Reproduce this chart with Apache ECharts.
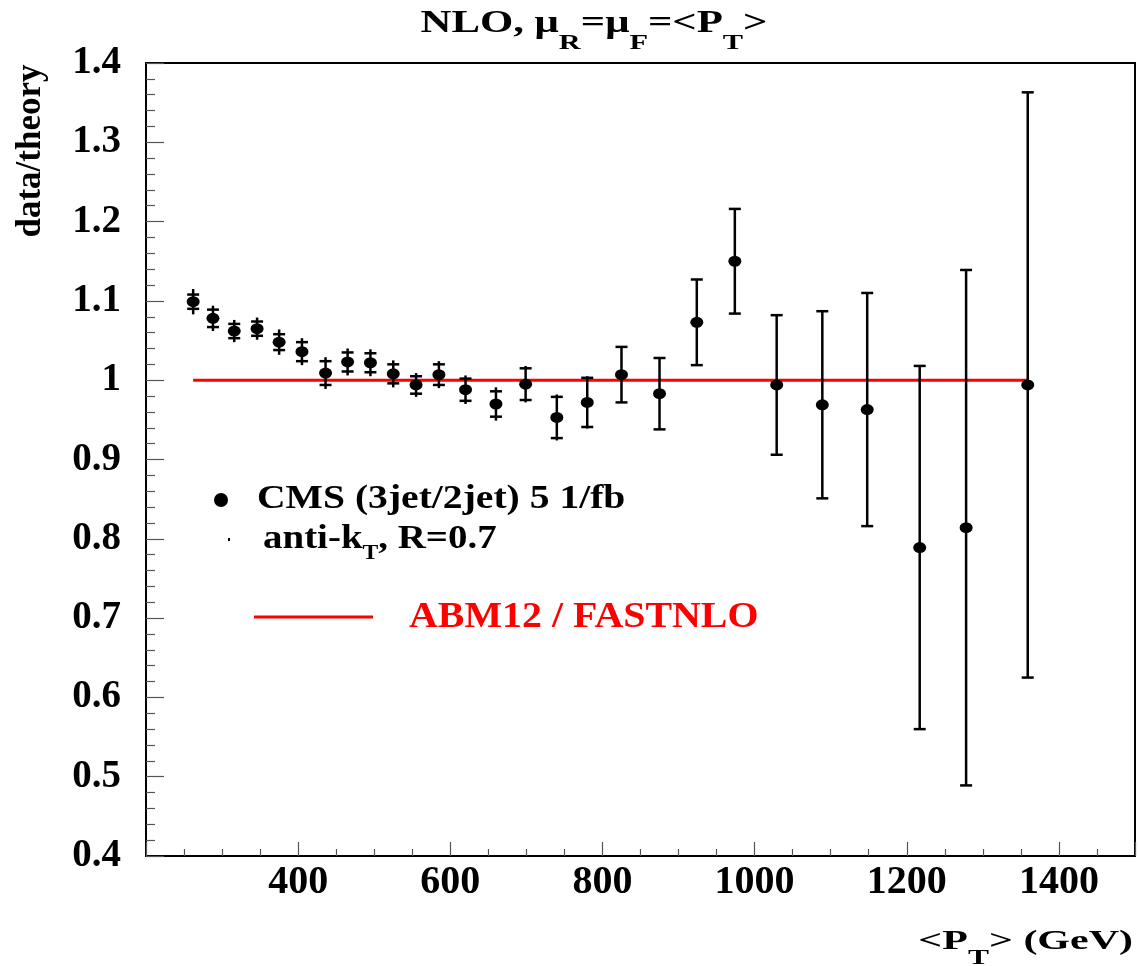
<!DOCTYPE html>
<html>
<head>
<meta charset="utf-8">
<script src="https://cdn.jsdelivr.net/npm/echarts@6/dist/echarts.min.js"></script>
<style>
html,body{margin:0;padding:0;background:#fff;}
#chart{width:1139px;height:966px;}
</style>
</head>
<body>
<div id="chart"></div>
<script>
// ---- data ----
const ptValues = [262, 288, 316, 346, 375, 405, 436, 465, 495, 525, 555, 585, 620, 660, 699, 740, 780, 825, 875, 924, 974, 1029, 1089, 1148, 1217, 1278, 1359];
const ratioValues = [1.099, 1.078, 1.062, 1.065, 1.048, 1.036, 1.009, 1.023, 1.022, 1.008, 0.994, 1.007, 0.988, 0.970, 0.995, 0.953, 0.972, 1.007, 0.983, 1.073, 1.150, 0.994, 0.969, 0.963, 0.789, 0.814, 0.994];
const errStat = [0.009, 0.011, 0.009, 0.009, 0.010, 0.012, 0.015, 0.012, 0.012, 0.012, 0.011, 0.013, 0.014, 0.016, 0.020, 0.026, 0.031, 0.035, 0.045, 0.054, 0.066, 0.088, 0.118, 0.147, 0.229, 0.325, 0.369];
const errTot = [0.016, 0.016, 0.014, 0.014, 0.016, 0.017, 0.020, 0.017, 0.017, 0.017, 0.015, 0.017, 0.018, 0.021, 0.023, 0.029, 0.033, 0.035, 0.045, 0.054, 0.066, 0.088, 0.118, 0.147, 0.229, 0.325, 0.369];
const theoryRatio = [1, 1, 1, 1, 1, 1, 1, 1, 1, 1, 1, 1, 1, 1, 1, 1, 1, 1, 1, 1, 1, 1, 1, 1, 1, 1, 1];
const xTickValues = [400, 600, 800, 1000, 1200, 1400];
const yTickValues = [0.4, 0.5, 0.6, 0.7, 0.8, 0.9, 1, 1.1, 1.2, 1.3, 1.4];

const FONT = '"Liberation Serif", "Times New Roman", serif';

const chart = echarts.init(document.getElementById('chart'), null, {renderer: 'canvas'});

const pointData = ptValues.map((x, i) => [x, ratioValues[i]]);
const errData = ptValues.map((x, i) => [x, ratioValues[i], errTot[i], errStat[i]]);
const theoryData = ptValues.map((x, i) => [x, theoryRatio[i]]);

function renderErr(params, api) {
  const x = api.value(0), y = api.value(1), et = api.value(2), es = api.value(3);
  const pTop = api.coord([x, y + et]);
  const pBot = api.coord([x, y - et]);
  const cTop = api.coord([x, y + es]);
  const cBot = api.coord([x, y - es]);
  const hw = 6;
  const st = {stroke: '#000', lineWidth: 2.5};
  return {
    type: 'group',
    children: [
      {type: 'line', shape: {x1: pTop[0], y1: pTop[1], x2: pBot[0], y2: pBot[1]}, style: st},
      {type: 'line', shape: {x1: cTop[0] - hw, y1: cTop[1], x2: cTop[0] + hw, y2: cTop[1]}, style: st},
      {type: 'line', shape: {x1: cBot[0] - hw, y1: cBot[1], x2: cBot[0] + hw, y2: cBot[1]}, style: st}
    ]
  };
}

// text with subscripts: pieces = [[text, fontSize, baselineDrop], ...]
const measureCtx = document.createElement('canvas').getContext('2d');
function fontOf(size) { return 'bold ' + size + 'px ' + FONT; }
function textGroup(pieces, x, baseline, align, scaleX, color) {
  let w = 0;
  const items = pieces.map(p => {
    measureCtx.font = fontOf(p[1]);
    const pw = measureCtx.measureText(p[0]).width;
    const it = {t: p[0], size: p[1], dy: p[2], off: w};
    w += pw;
    return it;
  });
  const start = align === 'center' ? -w / 2 : (align === 'right' ? -w : 0);
  return {
    type: 'group', x: x, y: baseline, scaleX: scaleX,
    children: items.map(it => ({
      type: 'text', x: start + it.off, y: it.dy - 0.305 * it.size,
      style: {text: it.t, font: fontOf(it.size), fill: color, align: 'left', textAlign: 'left', verticalAlign: 'middle', textVerticalAlign: 'middle'}
    }))
  };
}

const option = {
  backgroundColor: '#fff',
  animation: false,
  grid: {left: 146, right: 4, top: 63, bottom: 110, show: true, borderColor: '#000', borderWidth: 2, backgroundColor: 'transparent'},
  xAxis: {
    type: 'value', min: 200, max: 1500, interval: 200,
    axisLine: {show: true, onZero: false, lineStyle: {color: '#000', width: 2}},
    axisTick: {show: true, inside: true, length: 14, lineStyle: {color: '#555', width: 1.2}},
    minorTick: {show: true, splitNumber: 4, length: 7, lineStyle: {color: '#555', width: 1.2}},
    splitLine: {show: false},
    axisLabel: {
      showMinLabel: false,
      margin: 7,
      fontFamily: FONT, fontWeight: 'bold', fontSize: 40, color: '#000',
      formatter: v => (xTickValues.indexOf(v) >= 0 ? String(v) : '')
    }
  },
  yAxis: {
    type: 'value', min: 0.4, max: 1.4, interval: 0.1,
    axisLine: {show: true, onZero: false, lineStyle: {color: '#000', width: 2}},
    axisTick: {show: true, inside: true, length: 18, lineStyle: {color: '#555', width: 1.2}},
    minorTick: {show: true, splitNumber: 5, length: 9, lineStyle: {color: '#555', width: 1.2}},
    splitLine: {show: false},
    axisLabel: {
      margin: 25,
      fontFamily: FONT, fontWeight: 'bold', fontSize: 39, color: '#000',
      formatter: v => {
        const r = Math.round(v * 10) / 10;
        return yTickValues.indexOf(r) >= 0 ? String(r) : '';
      }
    }
  },
  series: [
    {
      type: 'line', data: theoryData, showSymbol: false, symbol: 'none',
      lineStyle: {color: '#ff0000', width: 3}, z: 2
    },
    {
      type: 'custom', data: errData, renderItem: renderErr, z: 3,
      encode: {x: 0, y: 1}
    },
    {
      type: 'scatter', data: pointData, symbol: 'circle', symbolSize: [13, 11],
      itemStyle: {color: '#000', opacity: 1}, z: 4
    }
  ],
  graphic: [
    textGroup([['NLO, μ', 31, 0], ['R', 22, 17], ['=μ', 31, 0], ['F', 22, 17], ['=<P', 31, 0], ['T', 22, 17], ['>', 31, 0]], 594, 33, 'center', 1.38, '#000'),
    {
      type: 'text', x: 31, y: 151, rotation: Math.PI / 2,
      style: {text: 'data/theory', font: 'bold 35px ' + FONT, fill: '#000', align: 'center', textAlign: 'center', verticalAlign: 'middle', textVerticalAlign: 'middle'}
    },
    textGroup([['<P', 28, 0], ['T', 21, 15], ['> (GeV)', 28, 0]], 1133, 950, 'right', 1.5, '#000'),
    {
      type: 'circle', shape: {cx: 221, cy: 500, r: 7}, style: {fill: '#000'}
    },
    textGroup([['CMS (3jet/2jet) 5 1/fb', 33, 0]], 257, 510, 'left', 1.2, '#000'),
    {
      type: 'rect', shape: {x: 228, y: 538, width: 2, height: 3}, style: {fill: '#000'}
    },
    textGroup([['anti-k', 33, 0], ['T', 20, 10], [', R=0.7', 33, 0]], 263, 550, 'left', 1.18, '#000'),
    {
      type: 'line', shape: {x1: 254, y1: 617, x2: 373, y2: 617}, style: {stroke: '#ff0000', lineWidth: 3}
    },
    textGroup([['ABM12 / FASTNLO', 35, 0]], 409, 629, 'left', 1.14, '#ff0000')
  ]
};
chart.setOption(option);
</script>
</body>
</html>
